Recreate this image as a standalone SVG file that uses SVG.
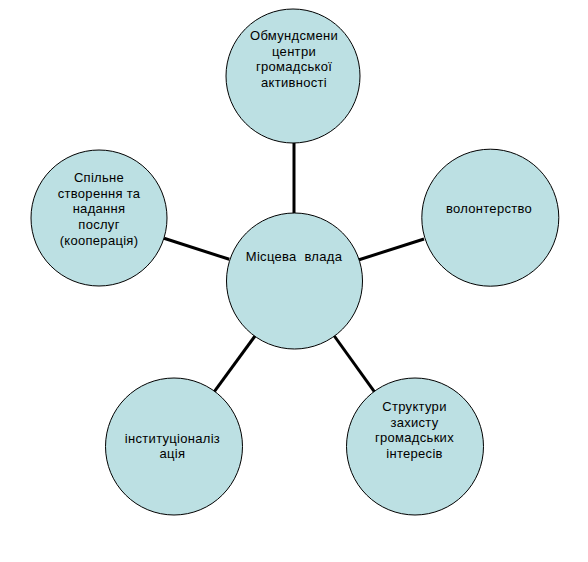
<svg xmlns="http://www.w3.org/2000/svg" width="588" height="562" viewBox="0 0 588 562">
<style>
.node circle{fill:#BCE0E3;stroke:#000;stroke-width:1}
.node text{font-family:"Liberation Sans",Arial,sans-serif;font-size:13px;letter-spacing:0.3px;fill:#000;text-anchor:middle}
.conn line{stroke:#000;stroke-width:3;stroke-linecap:butt}
</style>
<rect width="588" height="562" fill="#fff"/>
<g id="connectors" class="conn">
<line x1="294" y1="143" x2="294" y2="213"/>
<line x1="164" y1="238.3" x2="229.3" y2="259.3"/>
<line x1="358.3" y1="260" x2="424" y2="239"/>
<line x1="255" y1="336" x2="214.3" y2="391.7"/>
<line x1="334.3" y1="336" x2="374.3" y2="391.7"/>
</g>
<g id="center" class="node">
<circle cx="294.5" cy="281" r="68"/>
<text x="294" y="261" xml:space="preserve">Місцева  влада</text>
</g>
<g id="top" class="node">
<circle cx="293" cy="76" r="67"/>
<text x="294" y="40">Обмундсмени</text>
<text x="294" y="55.5">центри</text>
<text x="294" y="71">громадської</text>
<text x="294" y="86.5">активності</text>
</g>
<g id="left" class="node">
<circle cx="99" cy="218" r="68"/>
<text x="99" y="182">Спільне</text>
<text x="99" y="197.7">створення та</text>
<text x="99" y="213.4">надання</text>
<text x="99" y="229">послуг</text>
<text x="99" y="244.5">(кооперація)</text>
</g>
<g id="right" class="node">
<circle cx="490.3" cy="217.7" r="68.5"/>
<text x="489" y="213">волонтерство</text>
</g>
<g id="bottom-left" class="node">
<circle cx="174" cy="446.5" r="68.5"/>
<text x="172.5" y="442.5">інституціоналіз</text>
<text x="172.5" y="458">ація</text>
</g>
<g id="bottom-right" class="node">
<circle cx="415" cy="446.5" r="68.5"/>
<text x="414.5" y="411">Структури</text>
<text x="414.5" y="426.7">захисту</text>
<text x="414.5" y="442.4">громадських</text>
<text x="414.5" y="458">інтересів</text>
</g>
</svg>
